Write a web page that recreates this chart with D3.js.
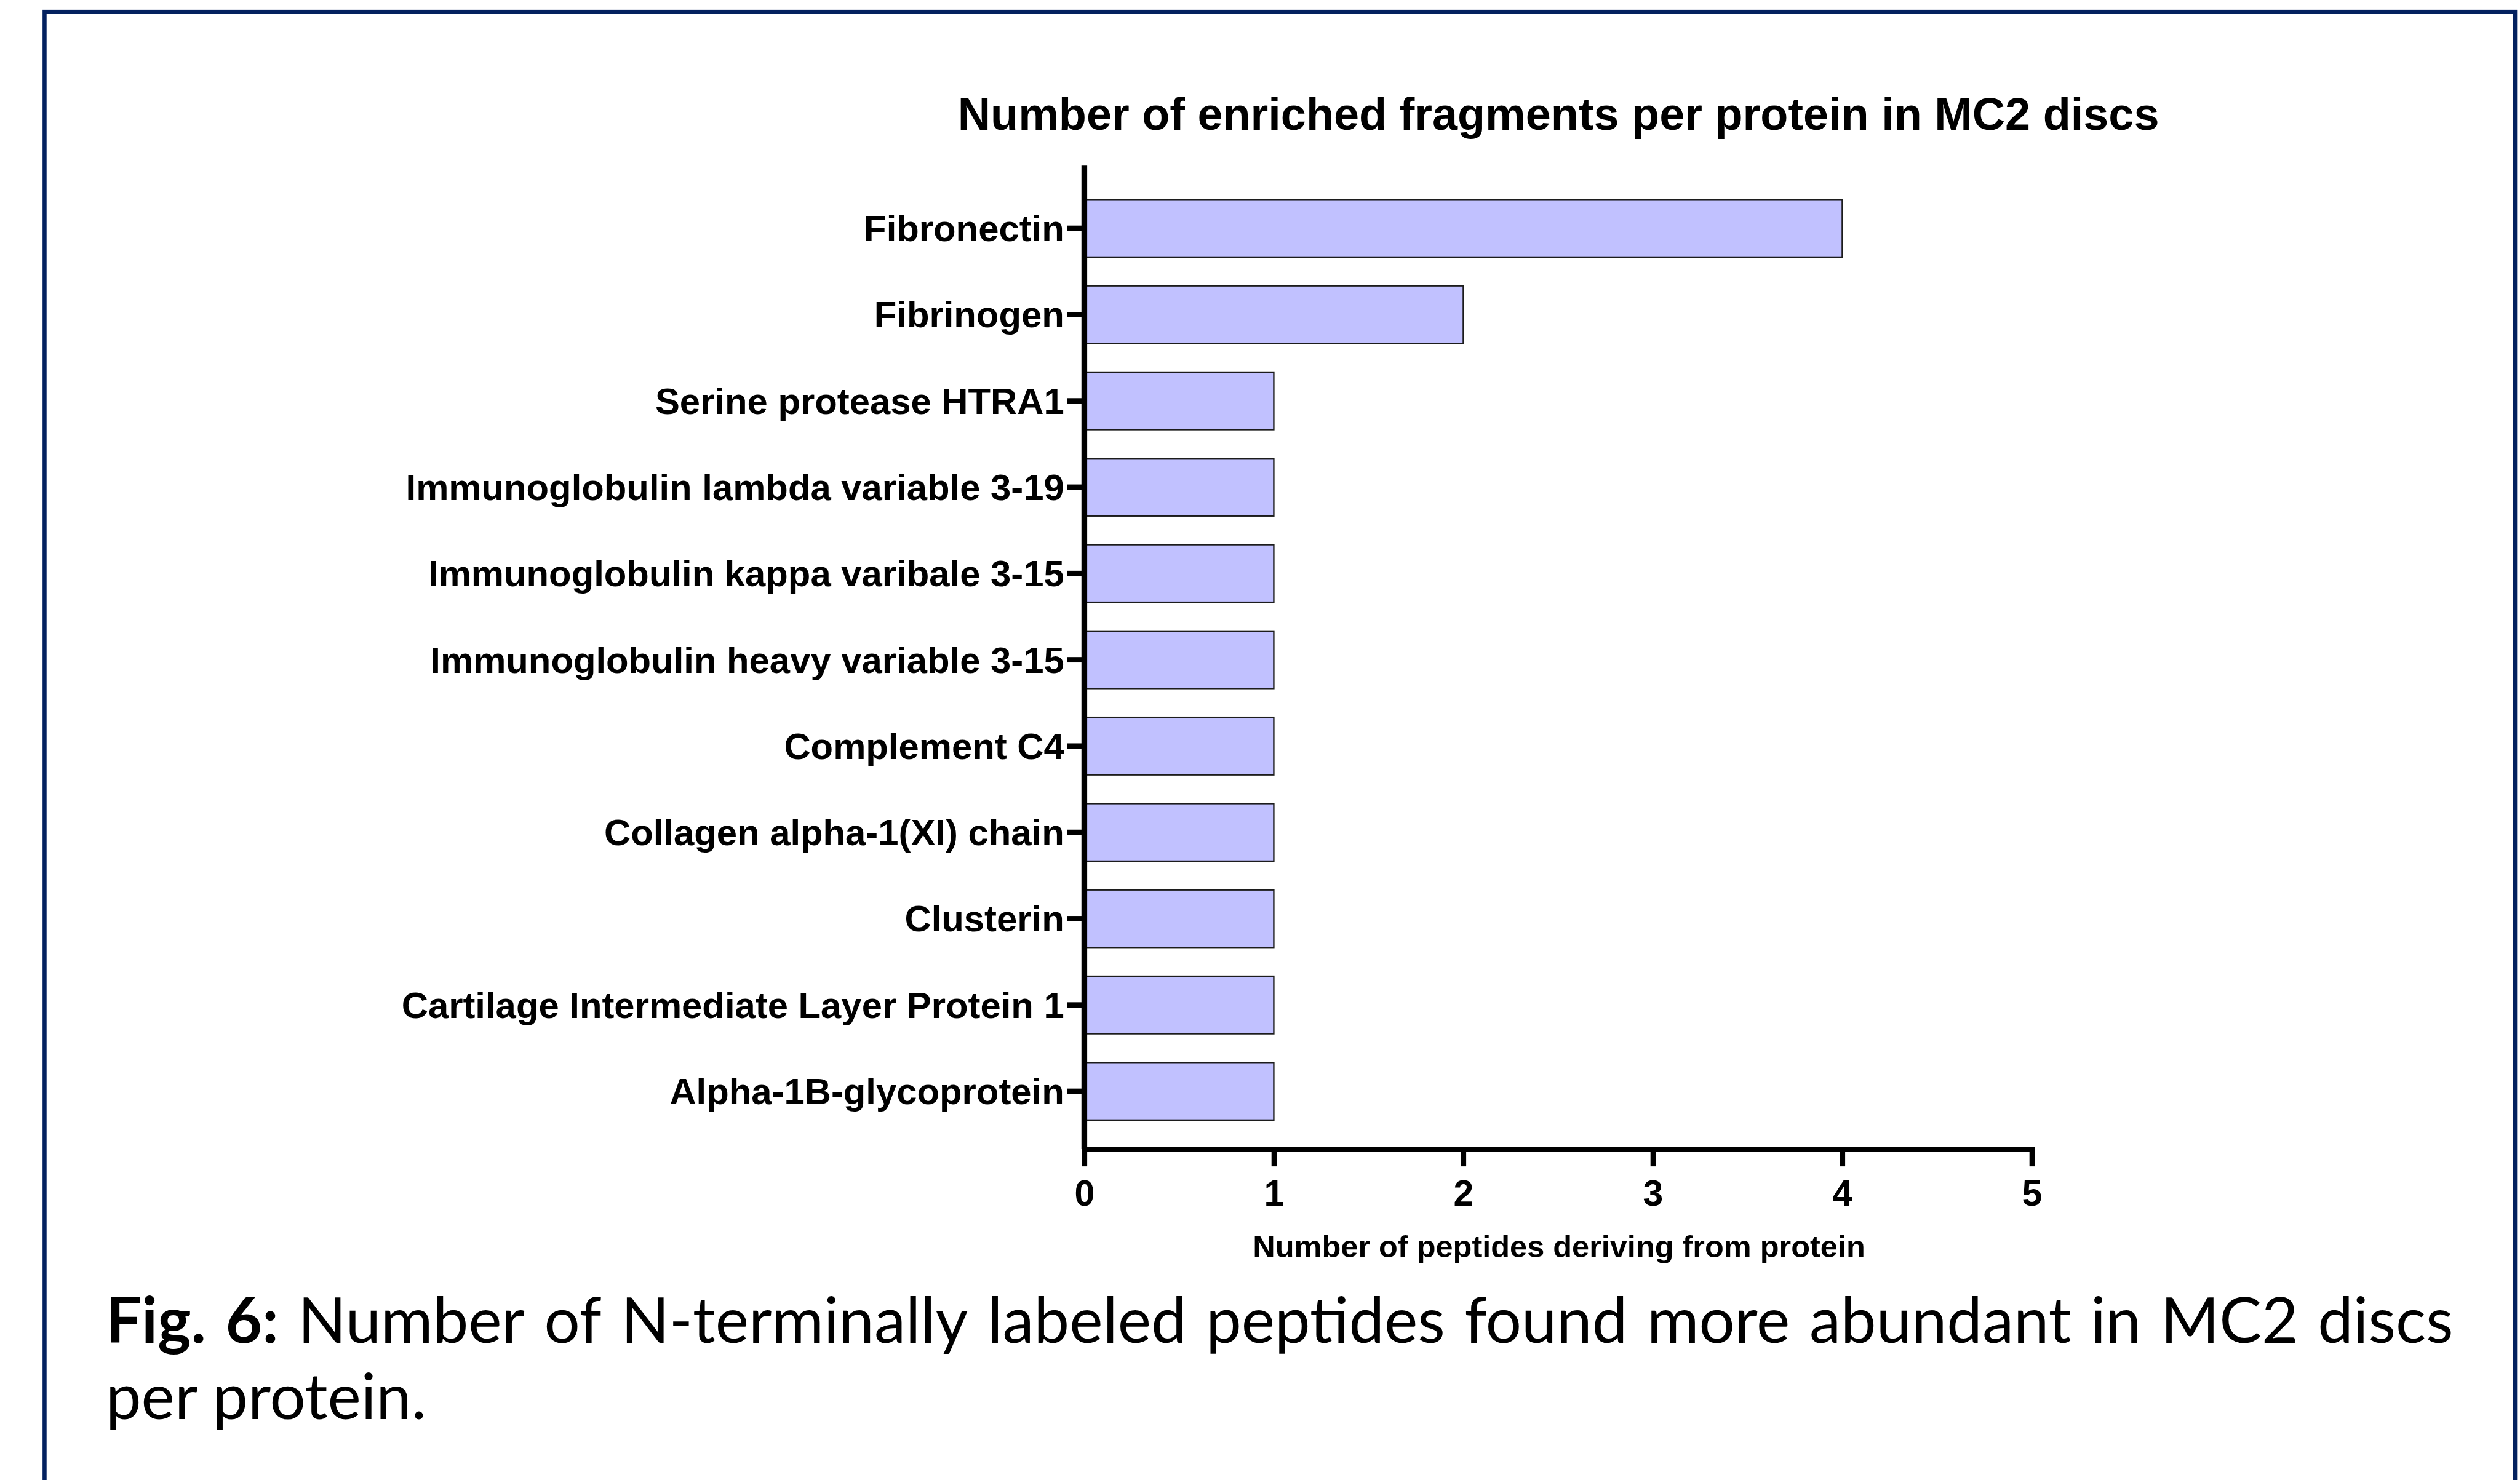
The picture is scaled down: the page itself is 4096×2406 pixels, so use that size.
<!DOCTYPE html>
<html>
<head>
<meta charset="utf-8">
<script src="https://cdn.jsdelivr.net/npm/d3@7"></script>
<style>
html,body{margin:0;padding:0;background:#fff;}
svg{display:block;}
</style>
</head>
<body>
<script>
const categories = ["Fibronectin","Fibrinogen","Serine protease HTRA1","Immunoglobulin lambda variable 3-19","Immunoglobulin kappa varibale 3-15","Immunoglobulin heavy variable 3-15","Complement C4","Collagen alpha-1(XI) chain","Clusterin","Cartilage Intermediate Layer Protein 1","Alpha-1B-glycoprotein"];
const values = [4,2,1,1,1,1,1,1,1,1,1];
const xTicks = [0,1,2,3,4,5];
const titleText = "Number of enriched fragments per protein in MC2 discs";
const xAxisTitle = "Number of peptides deriving from protein";
const captionBold = "Fig. 6:";
const captionLine1 = "Number of N-terminally labeled peptides found more abundant in MC2 discs";
const captionLine2 = "per protein.";

const W = 4382, H = 2574;
const svg = d3.select("body").append("svg")
  .attr("width", 4096).attr("height", 2406)
  .attr("viewBox", `0 0 ${W} ${H}`);

// frame
svg.append("rect").attr("x",77.5).attr("y",20.5).attr("width",4296).attr("height",2700)
  .attr("fill","none").attr("stroke","#03215f").attr("stroke-width",7);

const x = d3.scaleLinear().domain([0,5]).range([1885.5,3533]);
const y = d3.scaleBand().domain(categories).range([322,1973]).paddingInner(1/3).paddingOuter(1/6);

const font = "'Liberation Sans', Arial, sans-serif";

// bars
svg.append("g").selectAll("rect").data(categories).join("rect")
  .attr("x", x(0))
  .attr("y", d => y(d))
  .attr("width", (d,i) => x(values[i]) - x(0))
  .attr("height", y.bandwidth())
  .attr("fill","#c1c1ff")
  .attr("stroke","#1c1c1c")
  .attr("stroke-width",2.5);

// y axis
const gy = svg.append("g").attr("transform",`translate(${x(0)},0)`)
  .call(d3.axisLeft(y).tickSize(30).tickSizeOuter(0));
gy.select(".domain").remove();
gy.selectAll(".tick line").attr("stroke","#000").attr("stroke-width",9.5);
gy.selectAll(".tick text").attr("x",-35).attr("dy","0.35em")
  .attr("font-family",font).attr("font-weight","bold").attr("font-size",64).attr("fill","#000");
svg.append("line").attr("x1",x(0)).attr("x2",x(0)).attr("y1",288).attr("y2",1998.5)
  .attr("stroke","#000").attr("stroke-width",10);

// x axis
const gx = svg.append("g").attr("transform","translate(0,1998.5)")
  .call(d3.axisBottom(x).tickValues(xTicks).tickSize(30).tickSizeOuter(0).tickFormat(d3.format("d")));
gx.select(".domain").attr("stroke","#000").attr("stroke-width",9.5).attr("stroke-linecap","square");
gx.selectAll(".tick line").attr("stroke","#000").attr("stroke-width",9);
gx.selectAll(".tick text").attr("y",98.5).attr("dy","0")
  .attr("font-family",font).attr("font-weight","bold").attr("font-size",63).attr("fill","#000");

// titles
svg.append("text").attr("x",2710).attr("y",226).attr("text-anchor","middle")
  .attr("font-family",font).attr("font-weight","bold").attr("font-size",79).text(titleText);
svg.append("text").attr("x",2711).attr("y",2187).attr("text-anchor","middle")
  .attr("font-family",font).attr("font-weight","bold").attr("font-size",54).text(xAxisTitle);

// caption (justified first line)
const capFont = "Lato, 'Open Sans', sans-serif";
const capSize = 110;
const left = 184, right = 4266;
const words = [captionBold.split(" ").map(w=>({w,b:true})), captionLine1.split(" ").map(w=>({w,b:false}))].flat();
const tmp = svg.append("g");
const widths = words.map(o => {
  const t = tmp.append("text").attr("font-family",capFont).attr("font-size",capSize)
    .attr("font-weight", o.b ? "bold" : "normal").text(o.w);
  return t.node().getComputedTextLength();
});
tmp.remove();
const gap = (right - left - d3.sum(widths)) / (words.length - 1);
const cap = svg.append("text").attr("font-family",capFont).attr("font-size",capSize).attr("fill","#000");
let cx = left;
words.forEach((o,i) => {
  cap.append("tspan").attr("x",cx).attr("y",2335).attr("font-weight", o.b ? "bold" : "normal").text(o.w);
  cx += widths[i] + gap;
});
cap.append("tspan").attr("x",left).attr("y",2468).attr("font-weight","normal").text(captionLine2);
</script>
</body>
</html>
